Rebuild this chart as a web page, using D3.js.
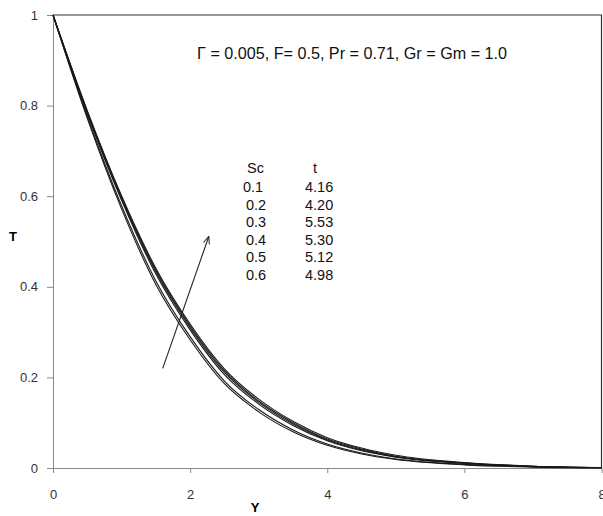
<!DOCTYPE html>
<html>
<head>
<meta charset="utf-8">
<script src="https://cdn.jsdelivr.net/npm/d3@7"></script>
<style>
  body { margin: 0; background: #fff; }
  svg { display: block; }
</style>
</head>
<body>
<script>
let yVals = [0, 0.5, 1, 1.5, 2, 2.5, 3, 3.5, 4, 4.5, 5, 6, 7, 8];

// temperature profiles, one per Sc
let sc1 = [1, 0.772, 0.572, 0.405, 0.283, 0.186, 0.124, 0.080, 0.050, 0.031, 0.019, 0.007, 0.002, 0.000];
let sc2 = [1, 0.776, 0.579, 0.413, 0.290, 0.192, 0.129, 0.084, 0.053, 0.033, 0.020, 0.008, 0.003, 0.000];
let sc3 = [1, 0.782, 0.591, 0.428, 0.305, 0.206, 0.141, 0.094, 0.060, 0.038, 0.024, 0.010, 0.003, 0.001];
let sc4 = [1, 0.785, 0.595, 0.433, 0.310, 0.211, 0.145, 0.097, 0.062, 0.040, 0.025, 0.011, 0.004, 0.001];
let sc5 = [1, 0.787, 0.598, 0.437, 0.314, 0.215, 0.148, 0.100, 0.064, 0.042, 0.026, 0.011, 0.004, 0.001];
let sc6 = [1, 0.789, 0.601, 0.441, 0.318, 0.219, 0.152, 0.103, 0.067, 0.044, 0.028, 0.012, 0.004, 0.001];

let scLabels = ["0.1", "0.2", "0.3", "0.4", "0.5", "0.6"];
let tLabels = ["4.16", "4.20", "5.53", "5.30", "5.12", "4.98"];

let xTicks = [0, 2, 4, 6, 8];
let yTicks = [0, 0.2, 0.4, 0.6, 0.8, 1];

let margin = {top: 15, right: 1.5, bottom: 48, left: 53},
    width = 603,
    height = 516;

let x = d3.scaleLinear()
    .domain([0, 8])
    .range([margin.left, width - margin.right]);

let y = d3.scaleLinear()
    .domain([0, 1])
    .range([height - margin.bottom, margin.top]);

const svg = d3.select("body").append("svg")
    .attr("width", width)
    .attr("height", height);

// frame (top and right)
svg.append("path")
    .attr("fill", "none")
    .attr("stroke", "#333")
    .attr("stroke-width", 1.2)
    .attr("d", `M${x(0)},${y(1)}H${x(8)}V${y(0)}`);

let xAxis = g => g
    .attr("transform", `translate(0,${y(0)})`)
    .call(d3.axisBottom(x).tickValues(xTicks).tickSize(5).tickSizeOuter(0).tickPadding(17))
    .call(g => g.selectAll("path, line").attr("stroke", "#888"))
    .call(g => g.selectAll("text").attr("fill", "#333"));

let yAxis = g => g
    .attr("transform", `translate(${x(0)},0)`)
    .call(d3.axisLeft(y).tickValues(yTicks).tickSize(6).tickSizeOuter(0).tickPadding(9)
      .tickFormat(d3.format("")))
    .call(g => g.selectAll("path, line").attr("stroke", "#888"))
    .call(g => g.selectAll("text").attr("fill", "#333"));

svg.append("g")
    .call(xAxis)
    .attr("font-family", "Liberation Sans, Arial")
    .attr("font-size", 13);

svg.append("g")
    .call(yAxis)
    .attr("font-family", "Liberation Sans, Arial")
    .attr("font-size", 13);

let series = [sc1, sc2, sc3, sc4, sc5, sc6];

let line = d3.line()
    .x((d, i) => x(yVals[i]))
    .y(d => y(d))
    .curve(d3.curveMonotoneX);

svg.append("g")
    .attr("fill", "none")
    .attr("stroke", "#1a1a1a")
    .attr("stroke-width", 1.1)
  .selectAll("path")
  .data(series)
  .join("path")
    .attr("d", line);

// arrow
svg.append("defs").append("marker")
    .attr("id", "head")
    .attr("viewBox", "0 0 10 10")
    .attr("refX", 9)
    .attr("refY", 5)
    .attr("markerWidth", 7)
    .attr("markerHeight", 7)
    .attr("orient", "auto")
  .append("path")
    .attr("d", "M0,1L10,5L0,9")
    .attr("fill", "none")
    .attr("stroke", "#222")
    .attr("stroke-width", 1.3);

svg.append("line")
    .attr("x1", x(1.6)).attr("y1", y(0.22))
    .attr("x2", x(2.27)).attr("y2", y(0.51))
    .attr("stroke", "#222")
    .attr("stroke-width", 1.1)
    .attr("marker-end", "url(#head)");

// annotation
svg.append("text")
    .attr("x", 197)
    .attr("y", 59)
    .attr("font-family", "Liberation Sans, Arial")
    .attr("font-size", 16)
    .attr("textLength", 310)
    .attr("lengthAdjust", "spacingAndGlyphs")
    .attr("fill", "#111")
    .text("\u0393 = 0.005, F= 0.5, Pr = 0.71, Gr = Gm = 1.0");

// legend table
const leg = svg.append("g")
    .attr("font-family", "Liberation Sans, Arial")
    .attr("font-size", 14.5)
    .attr("fill", "#111");

leg.append("text").attr("x", 247).attr("y", 173).text("Sc");
leg.append("text").attr("x", 313).attr("y", 173).text("t");

leg.selectAll(".sc")
  .data(scLabels)
  .join("text")
    .attr("x", (d, i) => i === 0 ? 243 : 246)
    .attr("y", (d, i) => 192 + i * 17.6)
    .text(d => d);

leg.selectAll(".tv")
  .data(tLabels)
  .join("text")
    .attr("x", 305)
    .attr("y", (d, i) => 192 + i * 17.6)
    .text(d => d);

// axis titles
svg.append("text")
    .attr("x", 13)
    .attr("y", 241)
    .attr("text-anchor", "middle")
    .attr("font-family", "Liberation Sans, Arial")
    .attr("font-weight", "bold")
    .attr("font-size", 13)
    .text("T");

svg.append("text")
    .attr("x", 255)
    .attr("y", 512)
    .attr("text-anchor", "middle")
    .attr("font-family", "Liberation Sans, Arial")
    .attr("font-weight", "bold")
    .attr("font-size", 13)
    .text("Y");
</script>
</body>
</html>
